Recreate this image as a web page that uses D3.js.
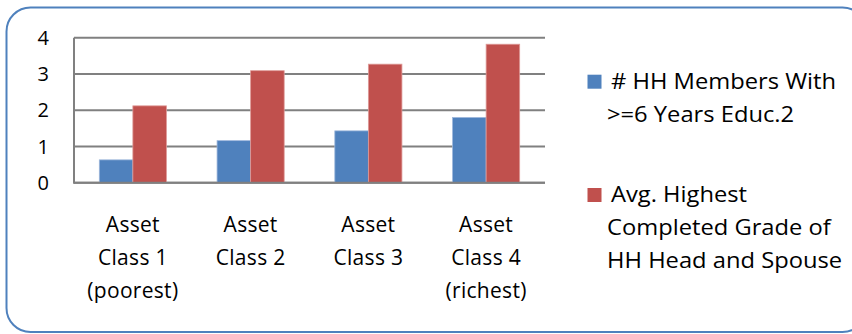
<!DOCTYPE html>
<html>
<head>
<meta charset="utf-8">
<script src="https://cdn.jsdelivr.net/npm/d3@7"></script>
<style>
  html, body { margin: 0; padding: 0; background: #fff; }
  svg { display: block; }
  text { font-family: "Open Sans", "Noto Sans", sans-serif; fill: #000; }
</style>
</head>
<body>
<svg id="chart" width="852" height="334"></svg>
<script>
// Asset classes along the x axis (multi-line labels)
const categories = [
  ["Asset", "Class 1", "(poorest)"],
  ["Asset", "Class 2"],
  ["Asset", "Class 3"],
  ["Asset", "Class 4", "(richest)"]
];
const seriesNames = [
  ["# HH Members With", ">=6 Years Educ.2"],
  ["Avg. Highest", "Completed Grade of", "HH Head and Spouse"]
];
const membersEduc = [0.63, 1.16, 1.43, 1.80];
const avgGrade = [2.12, 3.09, 3.27, 3.82];
const yTicks = [0, 1, 2, 3, 4];
const colors = ["#4F81BD", "#C0504D"];

const svg = d3.select("#chart");

// rounded frame around the whole chart
svg.append("rect")
  .attr("x", 6.5).attr("y", 7.5)
  .attr("width", 860).attr("height", 324.5)
  .attr("rx", 24).attr("ry", 24)
  .attr("fill", "#fff")
  .attr("stroke", "#4F81BD").attr("stroke-width", 2);

const plot = { left: 74, right: 545, top: 37.7, bottom: 182.7 };

const x = d3.scaleBand()
  .domain(d3.range(categories.length))
  .range([plot.left, plot.right])
  .paddingInner(0.43).paddingOuter(0.215);

const xs = d3.scaleBand()
  .domain([0, 1])
  .range([0, x.bandwidth()]);

const y = d3.scaleLinear().domain([0, 4]).range([plot.bottom, plot.top]);

// horizontal gridlines
svg.append("g")
  .selectAll("line")
  .data(yTicks)
  .join("line")
  .attr("x1", plot.left).attr("x2", plot.right)
  .attr("y1", d => y(d)).attr("y2", d => y(d))
  .attr("stroke", "#808080").attr("stroke-width", 2);

// left axis line
svg.append("line")
  .attr("x1", plot.left).attr("x2", plot.left)
  .attr("y1", plot.top).attr("y2", plot.bottom + 1)
  .attr("stroke", "#808080").attr("stroke-width", 2);

// y tick labels
svg.append("g")
  .selectAll("text")
  .data(yTicks)
  .join("text")
  .attr("x", 49)
  .attr("y", d => y(d))
  .attr("dy", "0.36em")
  .attr("text-anchor", "end")
  .attr("font-size", 20)
  .text(d => d);

// bars
const series = [membersEduc, avgGrade];
const groups = svg.append("g")
  .selectAll("g")
  .data(series)
  .join("g")
  .attr("fill", (d, i) => colors[i]);

groups.selectAll("rect")
  .data((vals, si) => vals.map((v, ci) => ({ v, ci, si })))
  .join("rect")
  .attr("x", d => x(d.ci) + xs(d.si))
  .attr("y", d => y(d.v))
  .attr("width", xs.bandwidth())
  .attr("height", d => y(0) - y(d.v))
  .attr("stroke", d => d.si === 0 ? "#9DB7DB" : "#DE9A98")
  .attr("stroke-width", 0.8);

// redraw baseline over the bars
svg.append("line")
  .attr("x1", plot.left).attr("x2", plot.right)
  .attr("y1", y(0)).attr("y2", y(0))
  .attr("stroke", "#808080").attr("stroke-width", 2);

// category labels
const catG = svg.append("g")
  .selectAll("text")
  .data(categories)
  .join("text")
  .attr("text-anchor", "middle")
  .attr("font-size", 21)
  .attr("letter-spacing", 0.3)
  .attr("x", (d, i) => x(i) + x.bandwidth() / 2)
  .attr("y", 225);
catG.selectAll("tspan")
  .data(d => d)
  .join("tspan")
  .attr("x", function () { return d3.select(this.parentNode).attr("x"); })
  .attr("dy", (d, i) => i === 0 ? "0.35em" : 33)
  .text(d => d);

// legend: swatches plus slightly widened multi-line labels
const legendY = [81.7, 195];
const legend = svg.append("g")
  .selectAll("g")
  .data(seriesNames)
  .join("g");
legend.append("rect")
  .attr("x", 587.5)
  .attr("y", (d, i) => legendY[i] - 7)
  .attr("width", 14).attr("height", 14)
  .attr("fill", (d, i) => colors[i]);
legend.append("g")
  .attr("transform", (d, i) => `translate(607,${legendY[i]}) scale(1.13,1)`)
  .append("text")
  .attr("font-size", 21)
  .selectAll("tspan")
  .data(d => d)
  .join("tspan")
  .attr("x", (d, i) => i === 0 ? 3.5 : 0)
  .attr("dy", (d, i) => i === 0 ? "0.35em" : 33)
  .text(d => d);
</script>
</body>
</html>
